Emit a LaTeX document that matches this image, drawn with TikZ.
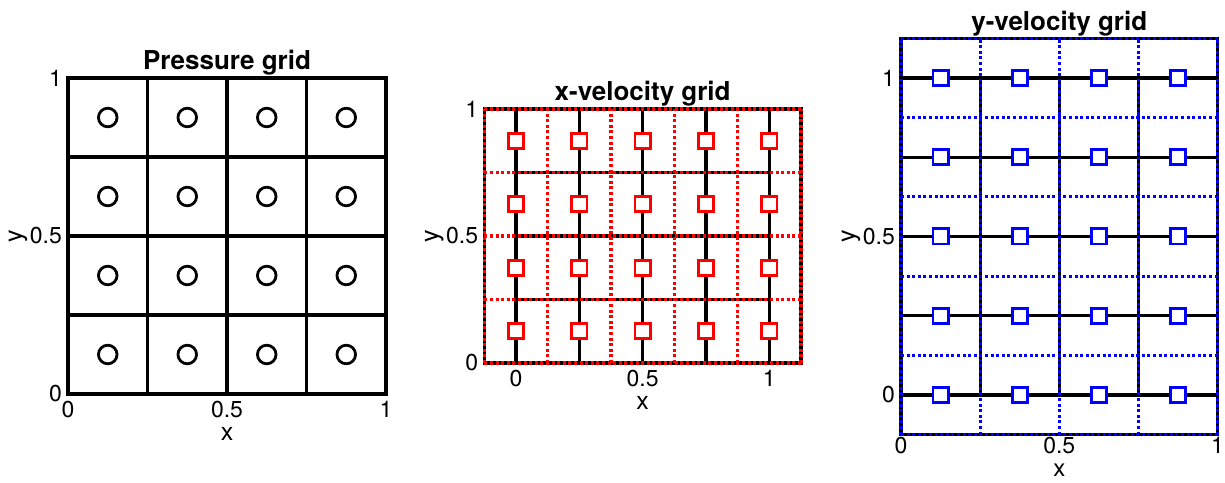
\documentclass[tikz,border=0pt]{standalone}
\usepackage{fontspec}
\setmainfont{TeX Gyre Heros}
\usepackage{xcolor}
\usepackage{tikz}
\usetikzlibrary{positioning}
\definecolor{ured}{RGB}{255,0,0}
\definecolor{vblue}{RGB}{0,0,255}
\tikzset{
  gridline/.style={line width=3.2pt,draw=black},
  dotline/.style={line width=3.1pt,dash pattern=on 3pt off 2.6pt},
  pmark/.style={circle,draw=black,line width=2.8pt,inner sep=0pt,minimum size=18.6pt},
  smark/.style={rectangle,fill=white,line width=2.8pt,inner sep=0pt,minimum size=15.2pt},
  titlelab/.style={font=\fontsize{26}{30}\selectfont\bfseries,anchor=base,inner sep=0pt,yshift=8pt},
  xticklab/.style={font=\fontsize{23}{27}\selectfont,anchor=base,inner sep=0pt,yshift=-23pt},
  yticklab/.style={font=\fontsize{23}{27}\selectfont,anchor=east,inner sep=0pt,xshift=-6pt},
  xaxlab/.style={font=\fontsize{25}{29}\selectfont,anchor=base,inner sep=0pt,yshift=-46.5pt},
  yaxlab/.style={font=\fontsize{25}{29}\selectfont,inner sep=0pt,xshift=-50pt,rotate=90}
}

\begin{document}
\begin{tikzpicture}[x=1pt,y=1pt]
  \useasboundingbox (0,0) rectangle (1225,482);
  % pressure grid
  \begin{scope}[shift={(68pt,88pt)},x=318pt,y=316pt]
    \foreach \v in {0.25,0.5,0.75}{
      \draw[gridline] (\v,0) -- (\v,1);
      \draw[gridline] (0,\v) -- (1,\v);
    }
    \draw[gridline] (0,0) rectangle (1,1);
    \foreach \i in {1,...,4}
      \foreach \j in {1,...,4}
        \node[pmark] (p-\i-\j) at ({(\i-0.5)/4},{(\j-0.5)/4}) {};
    \node[titlelab] (p-title) at (0.5,1) {Pressure grid};
    \foreach \t/\n in {0/0,0.5/0.5,1/1}{
      \node[xticklab] (p-xt-\n) at (\t,0) {\n};
      \node[yticklab] (p-yt-\n) at (0,\t) {\n};
    }
    \node[xaxlab] (p-xlab) at (0.5,0) {x};
    \node[yaxlab] (p-ylab) at (0,0.5) {y};
  \end{scope}
  % x-velocity grid
  \begin{scope}[shift={(516pt,119pt)},x=253.3pt,y=254pt]
    \draw[gridline] (-0.125,0) rectangle (1.125,1);
    \foreach \v in {0,0.25,0.5,0.75,1}
      \draw[gridline] (\v,0) -- (\v,1);
    \foreach \v in {0.25,0.5,0.75}
      \draw[gridline] (0,\v) -- (1,\v);
    \foreach \v in {-0.125,0.125,0.375,0.625,0.875,1.125}
      \draw[dotline,ured] (\v,0) -- (\v,1);
    \foreach \v in {0,0.25,0.5,0.75,1}
      \draw[dotline,ured] (-0.125,\v) -- (1.125,\v);
    \foreach \i in {0,...,4}
      \foreach \j in {1,...,4}
        \node[smark,draw=ured] (u-\i-\j) at ({\i/4},{(\j-0.5)/4}) {};
    \node[titlelab] (u-title) at (0.5,1) {x-velocity grid};
    \foreach \t/\n in {0/0,0.5/0.5,1/1}{
      \node[xticklab] (u-xt-\n) at (\t,0) {\n};
      \node[yticklab] (u-yt-\n) at (-0.125,\t) {\n};
    }
    \node[xaxlab] (u-xlab) at (0.5,0) {x};
    \node[yaxlab] (u-ylab) at (-0.125,0.5) {y};
  \end{scope}
  % y-velocity grid
  \begin{scope}[shift={(901pt,87pt)},x=316.5pt,y=317pt]
    \draw[gridline] (0,-0.125) rectangle (1,1.125);
    \foreach \v in {0,0.25,0.5,0.75,1}
      \draw[gridline] (0,\v) -- (1,\v);
    \foreach \v in {0.25,0.5,0.75}
      \draw[gridline] (\v,0) -- (\v,1);
    \foreach \v in {-0.125,0.125,0.375,0.625,0.875,1.125}
      \draw[dotline,vblue] (0,\v) -- (1,\v);
    \foreach \v in {0,0.25,0.5,0.75,1}
      \draw[dotline,vblue] (\v,-0.125) -- (\v,1.125);
    \foreach \i in {1,...,4}
      \foreach \j in {0,...,4}
        \node[smark,draw=vblue] (v-\i-\j) at ({(\i-0.5)/4},{\j/4}) {};
    \node[titlelab] (v-title) at (0.5,1.125) {y-velocity grid};
    \foreach \t/\n in {0/0,0.5/0.5,1/1}{
      \node[xticklab,yshift=4pt] (v-xt-\n) at (\t,-0.125) {\n};
      \node[yticklab] (v-yt-\n) at (0,\t) {\n};
    }
    \node[xaxlab,font=\fontsize{24}{28}\selectfont,yshift=5pt] (v-xlab) at (0.5,-0.125) {x};
    \node[yaxlab] (v-ylab) at (0,0.5) {y};
  \end{scope}
\end{tikzpicture}
\end{document}
